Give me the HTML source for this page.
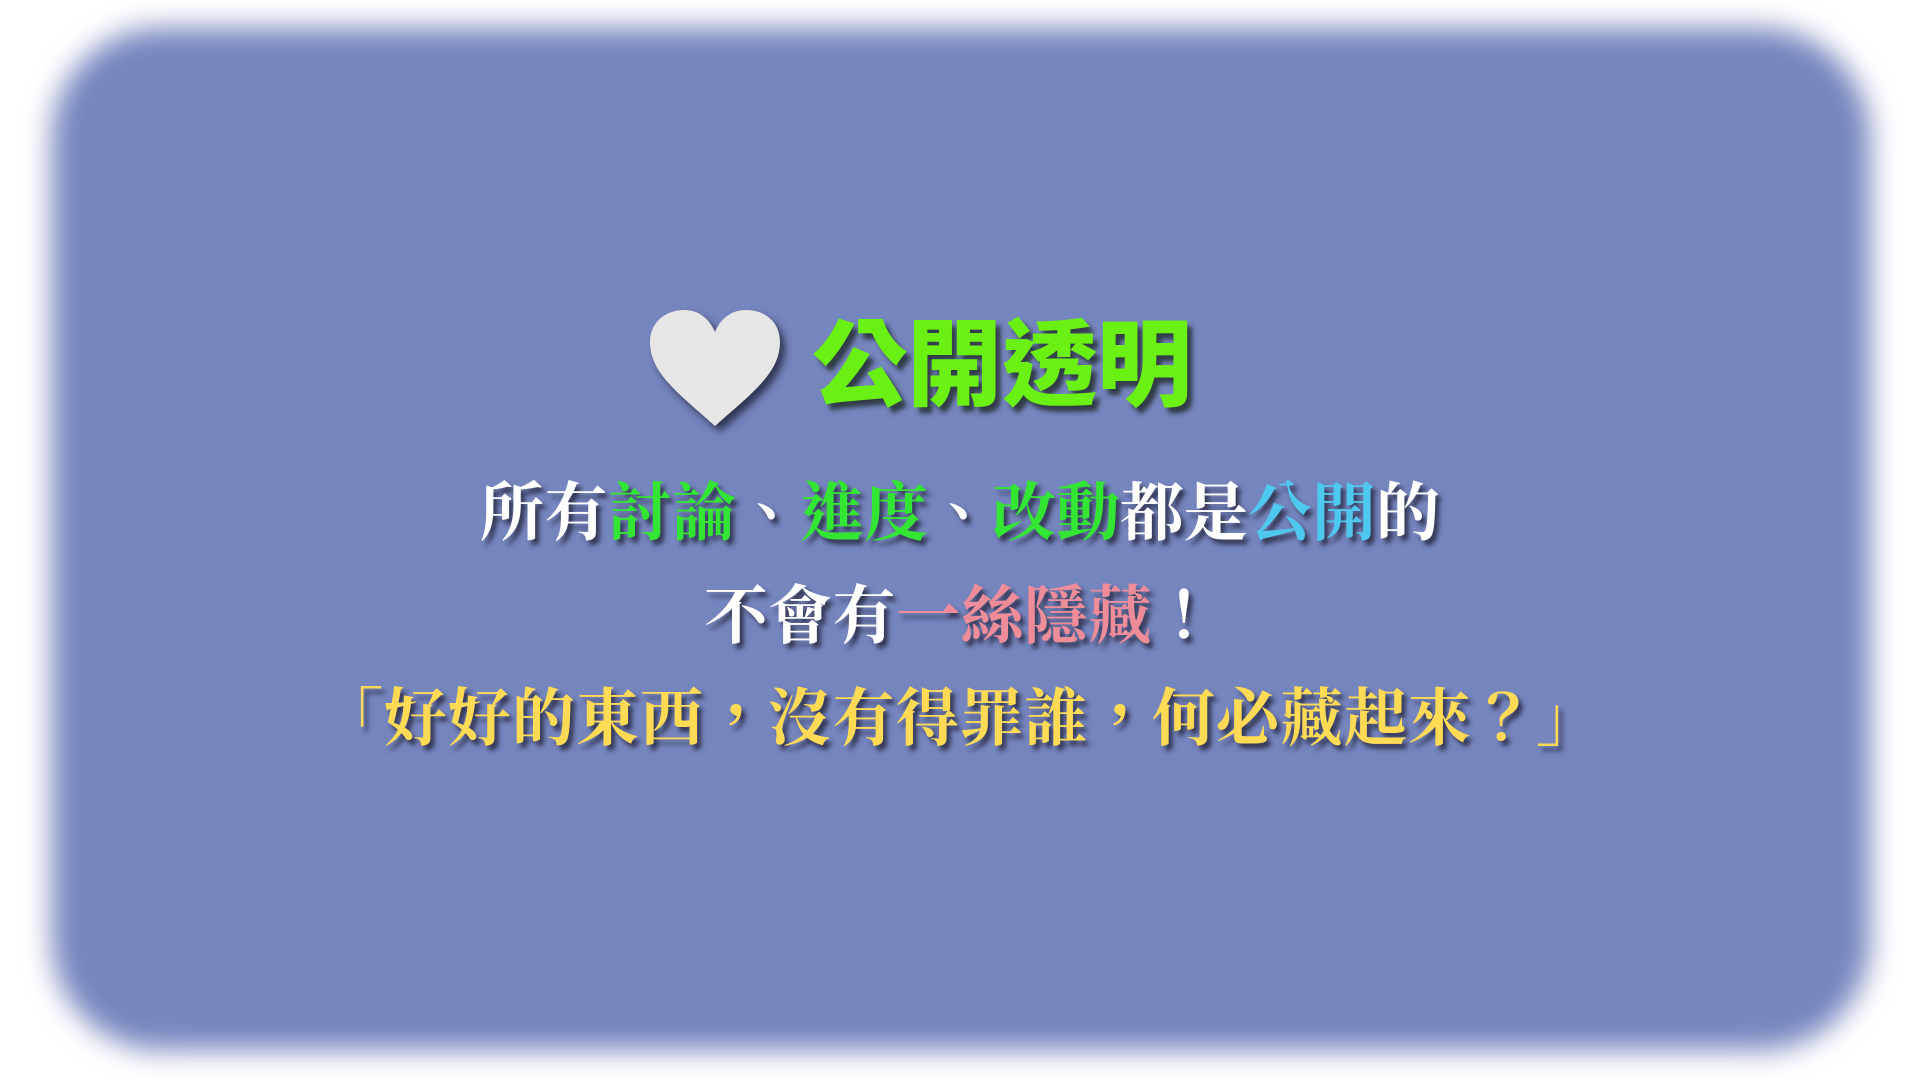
<!DOCTYPE html>
<html><head><meta charset="utf-8">
<style>
html,body{margin:0;padding:0;width:1920px;height:1080px;overflow:hidden;background:#fff;}
#box{position:absolute;left:52px;top:28px;width:1818px;height:1022px;border-radius:110px;background:#7585be;filter:blur(14px);}
.line{position:absolute;left:0;width:1920px;text-align:center;white-space:nowrap;font-family:"Liberation Serif","Noto Serif CJK TC","Noto Serif CJK SC",serif;font-size:64px;font-weight:bold;color:#fff;text-shadow:4px 5px 5px rgba(30,30,50,0.75);}
#title{position:absolute;left:812px;top:316px;font-family:"Liberation Sans","Noto Sans CJK TC",sans-serif;font-weight:900;font-size:95px;line-height:100px;color:#6af013;text-shadow:5px 6px 5px rgba(20,30,20,0.7);white-space:nowrap;}
.g{color:#33e633}.c{color:#4fc8ef}.p{color:#ef8c9a}.y{color:#ffdb55}
</style></head><body>
<div id="box"></div>
<svg style="position:absolute;left:648px;top:308px;filter:drop-shadow(5px 6px 4px rgba(20,20,40,0.7))" width="135" height="122" viewBox="0 0 135 122">
<path d="M67 118 C30 85 2 65 2 34 C2 14 18 2 36 2 C52 2 62 12 67 24 C72 12 82 2 98 2 C117 2 132 14 132 34 C132 65 104 85 67 118Z" fill="#e6e6e6"/>
</svg>
<div id="title">公開透明</div>
<div class="line" style="top:462px">所有<span class="g">討論</span>、<span class="g">進度</span>、<span class="g">改動</span>都是<span class="c">公開</span>的</div>
<div class="line" style="top:565px">不會有<span class="p">一絲隱藏</span>！</div>
<div class="line y" style="top:668px;font-size:63px;letter-spacing:1px">「好好的東西，沒有得罪誰，何必藏起來？」</div>
</body></html>
